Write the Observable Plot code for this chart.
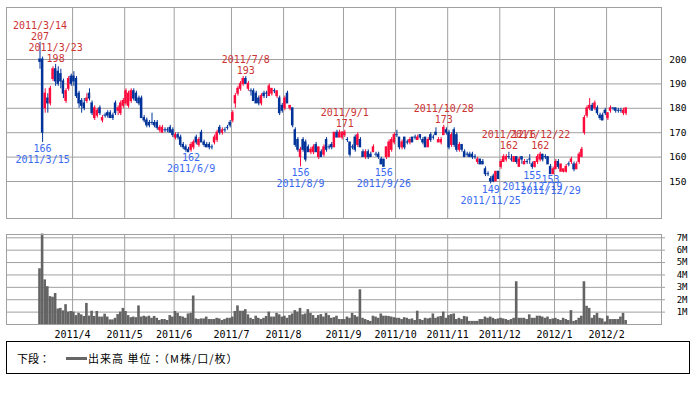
<!DOCTYPE html>
<html><head><meta charset="utf-8">
<script src="https://cdn.jsdelivr.net/npm/d3@7"></script>
<script src="https://cdn.jsdelivr.net/npm/@observablehq/plot@0.6"></script>
<style>
body{margin:0;background:#fff;}
#wrap{position:relative;width:696px;height:395px;overflow:hidden;background:#fff;}
#price{position:absolute;left:0;top:0;}
#vol{position:absolute;left:0;top:226px;}
#legend{position:absolute;left:6px;top:341px;width:684px;height:33px;border:1px solid #000;box-sizing:border-box;font:11px "Noto Sans CJK JP",sans-serif;color:#000;background:#fff;}
#legend span{position:absolute;top:8px;white-space:nowrap;}
#legend .swatch{position:absolute;left:59px;top:15px;width:21px;height:3px;background:#666;}
</style></head><body>
<div id="wrap"><div id="price"></div><div id="vol"></div>
<div id="legend"><span style="left:10px">下段：</span><div class="swatch"></div><span style="left:81px;letter-spacing:1px">出来高 単位：（M株/口/枚）</span></div>
</div>
<script>
// trading-day index 0 = 2011/3/14
const open = [
200,200,180,184,182,192,196,195,194,191,
183,188,193,193,192,186,183,182,183,186,
182,176,177,180,175,177,178,178,177,182,
179,178,181,182,181,183,187,186,184,184,
176,175,174,174,174,174,171,170,171,171,
172,171,168,169,168,165,164,163,163,164,
168,165,170,166,165,165,164,166,167,172,
170,171,172,174,175,182,186,188,190,192,
188,187,187,186,184,182,186,186,185,186,
187,185,184,181,180,186,180,180,171,167,
160,167,166,164,162,162,165,160,162,161,
167,164,165,164,170,168,168,169,167,166,
164,168,165,167,162,160,162,161,162,161,
161,159,159,160,160,163,166,169,168,164,
168,166,166,168,168,167,169,167,168,164,
169,168,170,166,166,169,171,170,165,171,
169,163,165,162,161,161,161,160,158,159,
158,155,153,151,152,150,154,156,158,159,
160,159,158,160,156,160,157,158,159,157,
156,158,159,161,160,160,156,153,155,158,
154,154,154,157,158,157,155,158,160,170,
177,180,181,180,180,177,177,179,176,179,
180,180,179,179,178,178];
const high = [
207,201,188,186,189,197,198,197,196,192,
188,193,194,195,193,187,184,184,186,188,
183,181,180,181,177,178,179,179,178,183,
181,183,184,188,187,188,188,187,185,185,
177,176,175,178,175,175,173,173,172,172,
173,172,170,170,169,166,165,164,166,167,
169,168,171,167,166,166,165,169,171,173,
172,172,173,175,179,186,189,191,193,193,
191,188,188,187,185,186,187,187,190,188,
188,187,185,182,185,187,181,180,172,168,
164,168,167,165,164,165,166,164,163,165,
168,165,166,170,171,171,170.5,171,168,166,
165,169,170,168,163,163,163,162,165,162,
162,160,159,164,167,168,170,171,168,167,
168,167,168,168,169,169,169,168,168,168,
170,169,172,168,168,173,172,171,170,172,
170,166,165,163,162,162,162,161,160,159,
159,156,154,152,153,154,154,159,161,161,
162,161,160,160,160,160,159,159,161,158,
158,161,162,161,161,160,157,156,159,159,
157,155,157,158,160,158,158,162,164,177,
181,184,182,183,181,178,178,180,178,181,
180,180,180,180,180,180];
const low = [
196,166,178,178,181,191,189,189,188,184,
182,187,189,189,184,180,178,179,182,183,
177,175,176,177,174,176,176,176,175,177,
177,177,180,181,180,182,183,182,181,176,
174,172,172,173,172,171,170,170,170,170,
170,168,167,167,164,163,162,162,162,163,
165,164,166,164,164,163,163,165,166,169,
169,170,171,172,174,180,185,187,189,190,
187,185,183,182,181,181,184,184,185,185,
186,184,177,178,179,182,179,172,164,162,
156,162,158,162,161,161,162,159,160,160,
162,163,163,164,168,168,167,168,166,160,
163,162,164,164,160,159,159,160,162,160,
159,157,156,159,160,162,165,168,163,163,
163,165,165,166,167,167,167,165,164,164,
166,167,169,166,165,169,169,163,164,164,
162,162,162,160,160,160,159,159,157,157,
157,152,152,149,149.5,150,151,155,158,158,
159,158,158,157,156,157,157,157,157,155,
155.5,157,158,158,159,157,153,153,155,155,
154,153.5,153.5,156,157,154,155,157,160,169,
176,179,179,179,177,175,175,177,175,178,
179,178,178,178,177,177];
const close = [
199,170,186,182,188,196,191,190,191,186,
187,192,190,191,185,182,181,180,184,184,
178,180,179,178,176,177,177,176,176,178,
180,182,183,187,186,187,184,183,182,176,
175,173,173,174,173,172,172,172,171,171,
170,169,169,168,165,164,163,162,165,166,
166,167,166,165,164,164,164,168,170,170,
171,171,172,173,178,185,188,190,192,190,
190,187,183,182,182,185,185,186,189,188,
187,187,178,179,184,182,181,173,165,163,
163,163,159,162,163,164,162,164,160,164,
163,164,164,170,168,170,170,170,167,161,
164,163,169,164,160,162,160,160,164,161,
160,157,156,164,166,167,169,169,164,166,
164,166,167,166,168,168,168,166,164,167,
167,168,169,167,167,172,170,164,169,165,
163,165,163,160,161,160,160,160,159,157,
157,153,153,150,150,154,151,158,160,160,
160,159,160,158,159,159,158,158,159,156,
158,160,161,159,160,157,153,155,158,156,
157,155,156,157,159,155,157,161,163,176,
180,181,179,182,178,176,175,178,178,180,
180,179,179,179,179,180];
const volume = [
4.5,7.3,3.6,3.05,2.25,2.2,2.5,1.25,1.3,1.1,
1.6,1.0,1.05,1.0,0.72,0.9,0.78,0.65,1.7,0.68,
1.07,0.65,1.05,0.6,0.6,0.83,0.6,0.37,0.37,0.5,
0.8,1.0,1.3,1.05,0.72,0.55,0.6,0.55,1.5,0.6,
0.67,0.6,0.67,0.5,0.65,0.5,0.32,0.4,0.4,0.32,
0.72,0.6,1.05,0.9,0.65,0.6,0.5,0.85,0.9,2.3,
0.45,0.4,0.45,0.45,0.6,0.4,0.4,0.4,0.5,0.45,
0.32,0.4,0.5,0.5,0.6,1.05,1.5,1.07,1.07,1.2,
0.78,0.5,0.4,0.67,0.5,0.4,0.5,0.65,1.0,0.6,
0.6,0.9,0.78,0.6,0.67,0.5,0.72,0.85,1.12,1.0,
1.3,0.78,0.85,1.2,0.9,0.72,0.5,0.72,0.8,0.6,
0.9,0.72,0.5,0.55,0.67,0.4,0.4,0.4,0.6,0.5,
0.9,0.72,0.6,2.8,0.5,0.4,0.32,0.25,0.67,0.6,
0.5,0.85,0.67,0.67,0.65,0.6,0.55,0.5,0.5,0.4,
0.55,0.5,0.4,0.45,0.32,1.07,0.4,0.32,0.5,0.45,
0.5,0.85,0.5,0.6,0.65,1.0,0.5,0.72,0.8,0.85,
0.4,0.5,0.4,0.65,0.6,0.25,0.25,0.25,0.25,0.4,
0.4,0.6,0.5,0.6,0.5,0.4,0.45,0.5,0.45,0.4,
0.32,0.4,0.5,3.45,0.5,0.5,0.5,0.4,0.78,0.5,
0.5,0.67,0.67,0.6,0.5,0.6,0.4,0.45,0.5,0.4,
0.32,0.5,0.4,0.32,1.12,0.25,0.32,0.5,0.67,3.45,
1.47,1.3,0.5,0.72,0.9,0.5,0.45,0.2,0.67,0.4,
0.4,0.4,0.4,0.6,0.9,0.32];

const monthTickIndex = [13,33,52,74,94,117,137,157,177,198,218];
const monthLabels = ["2011/4","2011/5","2011/6","2011/7","2011/8","2011/9","2011/10","2011/11","2011/12","2012/1","2012/2"];
const priceTicks = [150,160,170,180,190,200];
const volumeTicks = [1,2,3,4,5,6,7];
const volumeLabels = ["1M","2M","3M","4M","5M","6M","7M"];

const highIdx = [0,6,79,117,155,180,192];
const highVal = [207,198,193,171,173,162,162];
const highDate = ["2011/3/14","2011/3/23","2011/7/8","2011/9/1","2011/10/28","2011/12/6","2011/12/22"];
const lowIdx = [1,58,100,132,173,189,196];
const lowVal = [166,162,156,156,149,155,153];
const lowDate = ["2011/3/15","2011/6/9","2011/8/9","2011/9/26","2011/11/25","2011/12/19","2011/12/29"];

const RED = "#ff0a3c", BLUE = "#003399", RED_TXT = "#cc3333", BLUE_TXT = "#3a6af2", GRID = "#a0a0a0";
const FONT = "'DejaVu Sans Mono', monospace";

const candles = close.map((c, i) => ({i, o: open[i], h: high[i], l: low[i], c, col: c > open[i] ? RED : BLUE}));
const highs = highIdx.map((i, k) => ({i, v: highVal[k], d: highDate[k]}));
const lows = lowIdx.map((i, k) => ({i, v: lowVal[k], d: lowDate[k]}));
const vols = volume.map((v, i) => ({i, v}));
const gridXs = monthTickIndex.map(t => t - 0.5);
const xDomain = [-12.86, 238.58];

const price = Plot.plot({
  width: 696, height: 220,
  marginLeft: 6, marginRight: 35, marginTop: 7, marginBottom: 2,
  style: {fontFamily: FONT, fontSize: "10px", background: "transparent"},
  x: {type: "linear", domain: xDomain, axis: null},
  y: {domain: [134.84, 221.31], axis: null},
  color: {type: "identity"},
  marks: [
    Plot.gridY(priceTicks, {stroke: GRID, strokeOpacity: 1}),
    Plot.gridX(gridXs, {stroke: GRID, strokeOpacity: 1}),
    Plot.frame({stroke: GRID}),
    Plot.ruleX(candles, {x: "i", y1: "l", y2: "h", stroke: "col", strokeWidth: 1}),
    Plot.rect(candles, {x1: d => d.i - 0.47, x2: d => d.i + 0.47, y1: d => Math.min(d.o, d.c), y2: d => Math.max(d.o, d.c), fill: "col", insetTop: -0.5, insetBottom: -0.5}),
    Plot.axisY(priceTicks, {anchor: "right", label: null, tickSize: 0, tickPadding: 25, textAnchor: "end", fontSize: 9.5, fill: "#000"}),
    Plot.text(highs, {x: "i", y: "v", text: d => String(d.v), dy: -6, fill: RED_TXT, fontSize: 10}),
    Plot.text(highs, {x: "i", y: "v", text: "d", dy: -17, fill: RED_TXT, fontSize: 10}),
    Plot.text(lows, {x: "i", y: "v", text: d => String(d.v), dy: 6, fill: BLUE_TXT, fontSize: 10}),
    Plot.text(lows, {x: "i", y: "v", text: "d", dy: 17, fill: BLUE_TXT, fontSize: 10})
  ]
});
document.getElementById("price").append(price);

const vol = Plot.plot({
  width: 696, height: 120,
  marginLeft: 6, marginRight: 35, marginTop: 8, marginBottom: 22,
  style: {fontFamily: FONT, fontSize: "10px", background: "transparent"},
  x: {type: "linear", domain: xDomain, axis: null},
  y: {domain: [0, 7.265], axis: null},
  marks: [
    Plot.gridY(volumeTicks, {stroke: GRID, strokeOpacity: 1}),
    Plot.gridX(gridXs, {stroke: GRID, strokeOpacity: 1}),
    Plot.rectY(vols, {x1: d => d.i - 0.5, x2: d => d.i + 0.5, y: "v", fill: "#646464"}),
    Plot.frame({stroke: GRID}),
    Plot.axisY(volumeTicks, {anchor: "right", label: null, tickSize: 3, tickPadding: 23, textAnchor: "end", stroke: GRID, fill: "#000", fontSize: 9, tickFormat: (d, k) => volumeLabels[k]}),
    Plot.axisX(gridXs, {anchor: "bottom", label: null, tickSize: 0, tickPadding: 6, fill: "#000", fontSize: 10, tickFormat: (d, k) => monthLabels[k]})
  ]
});
document.getElementById("vol").append(vol);
</script>
</body></html>
